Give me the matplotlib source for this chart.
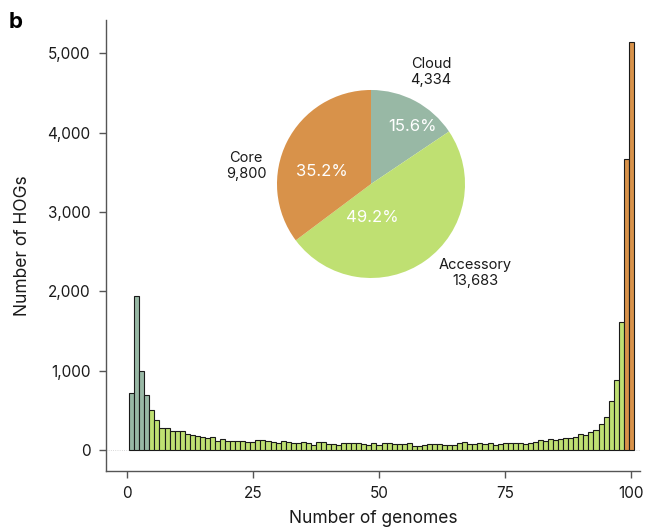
import numpy as np
import matplotlib
matplotlib.use("Agg")
import matplotlib.pyplot as plt

plt.rcParams['font.family'] = ['Inter', 'DejaVu Sans']

# number of HOGs found in 1..100 genomes
genomes = np.arange(1, 101)
hog_counts = [
    714, 1935, 991, 693, 508, 382, 277, 273, 235, 235,
    239, 206, 185, 176, 160, 151, 164, 118, 134, 113,
    113, 113, 113, 97, 97, 126, 126, 109, 101, 88,
    118, 101, 84, 88, 97, 84, 67, 101, 101, 76,
    76, 59, 88, 88, 88, 88, 76, 59, 84, 67,
    84, 88, 76, 71, 71, 88, 55, 55, 63, 80,
    80, 80, 63, 67, 67, 84, 97, 71, 76, 88,
    76, 84, 67, 76, 84, 84, 84, 92, 76, 92,
    97, 122, 109, 134, 126, 143, 153, 153, 168, 197,
    189, 223, 252, 327, 411, 613, 886, 1608, 3665, 5143,
]
# category of each bar: cloud 1-4, accessory 5-98, core 99-100
bar_group = ["Cloud"] * 4 + ["Accessory"] * 94 + ["Core"] * 2

pie_names = ["Cloud", "Accessory", "Core"]
pie_counts = [4334, 13683, 9800]
pie_pcts = ["15.6%", "49.2%", "35.2%"]

colors = {"Cloud": "#98b8a5", "Accessory": "#bfe072", "Core": "#d8924a"}

fig = plt.figure(figsize=(6.49, 5.29), dpi=100)
ax = fig.add_axes([0.1633, 0.1096, 0.8227, 0.8524])

ax.bar(genomes, hog_counts, width=1.0,
       color=[colors[g] for g in bar_group],
       edgecolor="#1a1a1a", linewidth=0.8, zorder=2)
ax.axhline(0, color="#cccccc", lw=0.6, ls=":", zorder=1)

ax.set_xlim(-4.1, 101.7)
ax.set_ylim(-264, 5416)
ax.set_xticks([0, 25, 50, 75, 100])
ax.set_yticks([0, 1000, 2000, 3000, 4000, 5000])
ax.set_yticklabels([f"{v:,}" for v in [0, 1000, 2000, 3000, 4000, 5000]])
for s in ["top", "right"]:
    ax.spines[s].set_visible(False)
for s in ["left", "bottom"]:
    ax.spines[s].set_color("#555555")
    ax.spines[s].set_linewidth(1.0)
ax.tick_params(axis="both", colors="#555555", labelcolor="#1a1a1a",
               labelsize=11, length=5, width=1.0, pad=6)

ax.set_xlabel("Number of genomes", fontsize=12.5, color="#1a1a1a", labelpad=6)
ax.set_ylabel("Number of HOGs", fontsize=12.5, color="#1a1a1a", labelpad=12)

fig.text(0.014, 0.958, "b", fontsize=16, fontweight="bold", va="center")

# inset pie
pax = fig.add_axes([0.4268, 0.4745, 0.2897, 0.3554])
labels = [f"{n}\n{c:,}" for n, c in zip(pie_names, pie_counts)]
wedges, texts = pax.pie(pie_counts, colors=[colors[n] for n in pie_names],
                        startangle=90, counterclock=False, labels=labels,
                        textprops=dict(fontsize=10.5, color="#1a1a1a", ha="center"))
pax.set_xlim(-1, 1)
pax.set_ylim(-1, 1)
pax.set_aspect("equal")

label_pos = [(0.64, 1.19), (1.11, -0.95), (-1.33, 0.19)]
for t, p in zip(texts, label_pos):
    t.set_position(p)
    t.set_ha("center")
    t.set_va("center")

pct_pos = [(0.44, 0.61), (0.01, -0.36), (-0.52, 0.13)]
for s, p in zip(pie_pcts, pct_pos):
    pax.text(p[0], p[1], s, color="white", fontsize=12, ha="center", va="center")

fig.savefig("out.png", dpi=100)
